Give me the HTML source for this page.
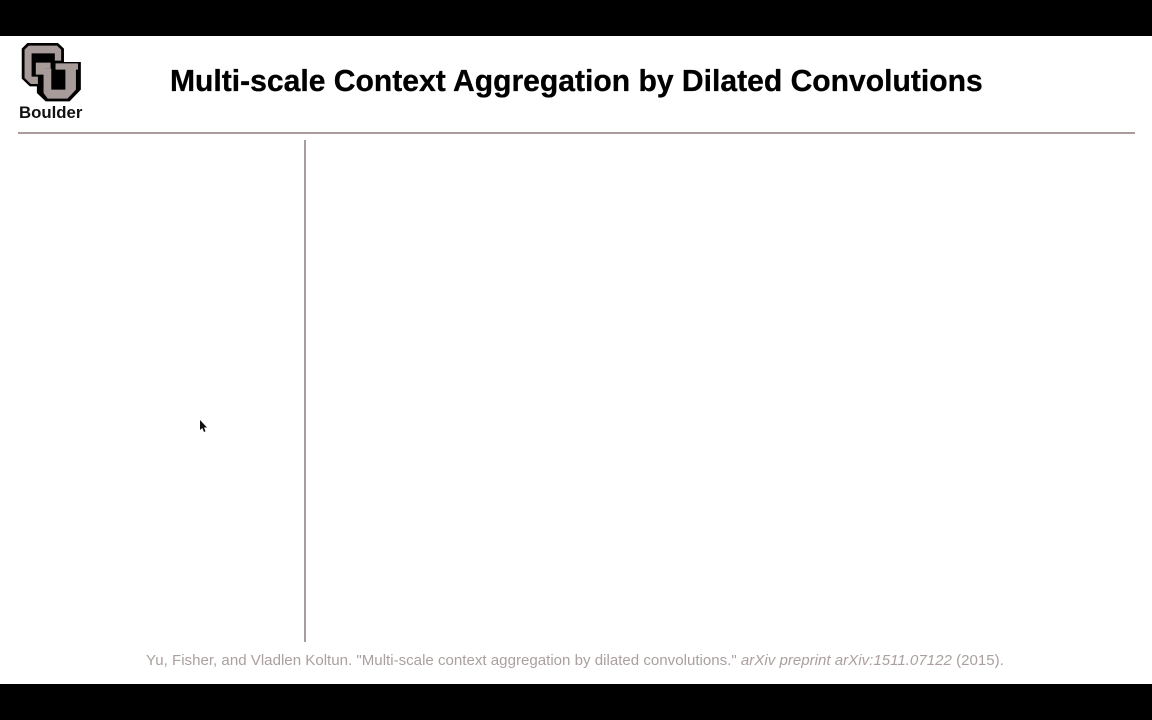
<!DOCTYPE html>
<html lang="en">
<head>
<meta charset="utf-8">
<title>Multi-scale Context Aggregation by Dilated Convolutions</title>
<style>
html,body{margin:0;padding:0;background:#000}
#slide{position:relative;width:1152px;height:720px;overflow:hidden;background:#000;font-family:"Liberation Sans",sans-serif}
#content{position:absolute;left:0;top:36px;width:1152px;height:648px;background:#fff}
#title{position:absolute;left:170px;top:66px;width:812px;font-size:30.08px;line-height:32px;font-weight:bold;color:#000;white-space:nowrap;-webkit-text-stroke:.3px #000}
#boulder{position:absolute;left:19px;top:104px;font-size:16.8px;line-height:18px;font-weight:bold;color:#111;white-space:nowrap}
#rule{position:absolute;left:18px;top:132px;width:1117px;height:2px;background:#a89c9c}
#divider{position:absolute;left:304px;top:140px;width:2px;height:502px;background:#a89c9c}
#cite{position:absolute;left:146px;top:652px;font-size:15.08px;line-height:17px;color:#ab9f9f;white-space:nowrap}
svg{position:absolute}
</style>
</head>
<body>
<div id="slide">
  <div id="content"></div>
  <svg style="left:13.500px;top:38px" width="76" height="86" viewBox="0 0 216 258" preserveAspectRatio="none">
    <path d="M38 15H125L142 32V72H190V155L158 190H90L65 165V145H45L22 122V32Z" fill="#000"/>
    <path d="M42 23H122L134 35V68H116V46H50V116H68V138H48L30 120V35Z" fill="#a89c9a"/>
    <path d="M62 74H104V92H88V110H62Z" fill="#a89c9a"/>
    <path d="M84 92H106V155H146V95H118V76H182V95H176V155L152 182H96L84 165Z" fill="#a89c9a"/>
  </svg>
  <div id="boulder">Boulder</div>
  <div id="title">Multi-scale Context Aggregation by Dilated Convolutions</div>
  <div id="rule"></div>
  <div id="divider"></div>
  <svg style="left:198px;top:419px" width="10" height="15" viewBox="0 0 10 15">
    <path d="M2 1V11L4.300 9L6 13L7.500 12.300L6 8.500H9Z" fill="#111"/>
  </svg>
  <div id="cite">Yu, Fisher, and Vladlen Koltun. "Multi-scale context aggregation by dilated convolutions." <i>arXiv preprint arXiv:1511.07122</i> (2015).</div>
</div>
</body>
</html>
